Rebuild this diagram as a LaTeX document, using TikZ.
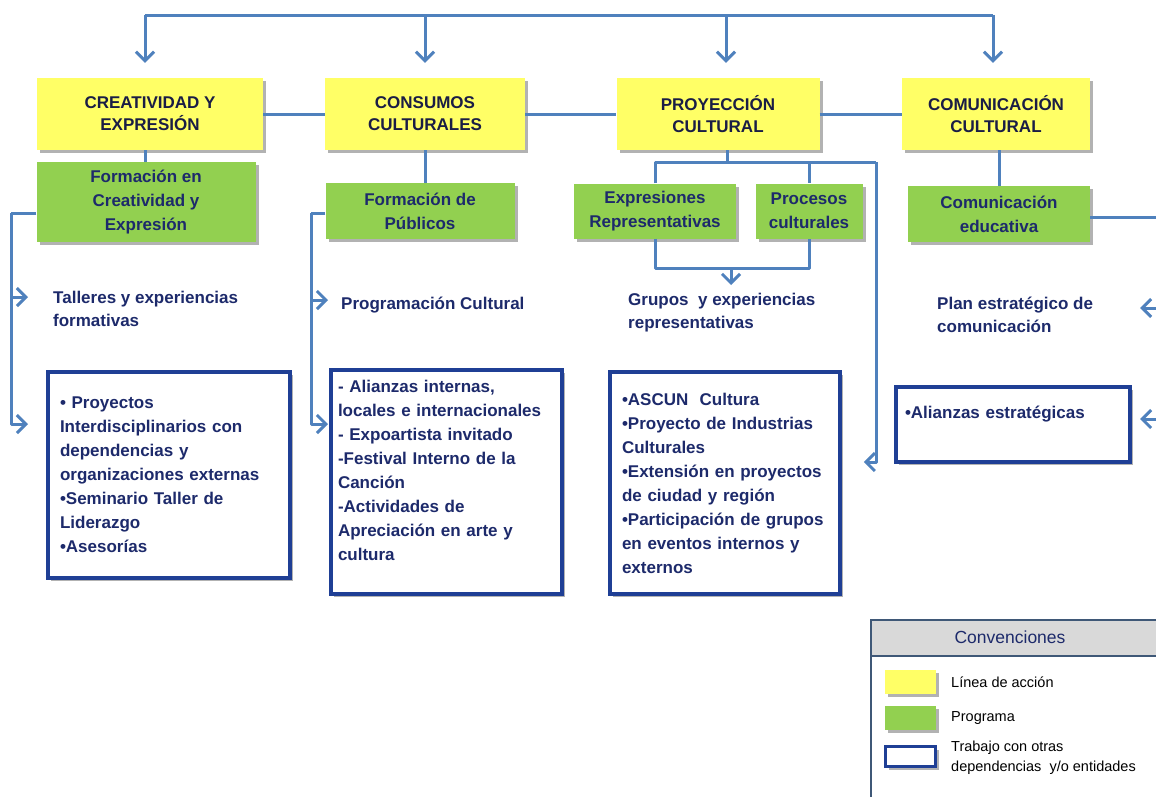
\documentclass[tikz,border=0pt]{standalone}
\usepackage{fontspec}
\setmainfont{Liberation Sans}
\usetikzlibrary{arrows.meta,shadows}
\definecolor{linea}{HTML}{4F81BD}
\definecolor{amarillo}{HTML}{FFFF66}
\definecolor{verde}{HTML}{92D050}
\definecolor{azul}{HTML}{1F3F95}
\definecolor{navy}{HTML}{1D2A6B}
\definecolor{ink}{HTML}{1A1D45}
\definecolor{gris}{HTML}{D9D9D9}
\definecolor{marco}{HTML}{3F5877}
\tikzset{
  con/.style={draw=linea, line width=3pt, line join=round},
  arr/.style={con, -{Straight Barb[length=9pt,width=18pt]}},
  sombra/.style={drop shadow={shadow xshift=3pt, shadow yshift=-3pt, fill=black, opacity=.3}},
  accion/.style={fill=amarillo, sombra, text=ink, font=\fontsize{17}{22}\selectfont\bfseries, align=center, minimum height=72pt, inner sep=0pt},
  programa/.style={fill=verde, sombra, text=navy, font=\fontsize{17}{24}\selectfont\bfseries, align=center, inner sep=0pt},
  trabajo/.style={draw=azul, line width=3.5pt, fill=white, sombra, text=navy, font=\fontsize{17}{24}\selectfont\bfseries, align=left, inner ysep=0pt},
  lab/.style={text=navy, font=\fontsize{17}{23}\selectfont\bfseries, align=left, anchor=west, inner sep=0pt},
  muestra/.style={sombra, minimum width=51pt, minimum height=24pt, inner sep=0pt},
  leg/.style={text=black, font=\fontsize{14.5}{20}\selectfont, align=left, anchor=west, inner sep=0pt},
}

\begin{document}
\begin{tikzpicture}[x=1pt,y=-1pt]
  \path[use as bounding box, fill=white] (0,0) rectangle (1156,796);

  \node[accion, minimum width=226pt] (L1) at (150,114) {CREATIVIDAD Y\\EXPRESIÓN};
  \node[accion, minimum width=200pt] (L2) at (425,114) {CONSUMOS\\CULTURALES};
  \node[accion, minimum width=203pt] (L3) at (718,114) {PROYECCIÓN\\CULTURAL};
  \node[accion, minimum width=188pt] (L4) at (996,114) {COMUNICACIÓN\\CULTURAL};

  \node[programa, minimum width=219pt, minimum height=80pt] (P1) at (146,202) {Formación en\\Creatividad y\\Expresión};
  \node[programa, minimum width=189pt, minimum height=56pt] (P2) at (420,211) {Formación de\\Públicos};
  \node[programa, minimum width=162pt, minimum height=55pt] (P3a) at (655,211) {Expresiones\\Representativas};
  \node[programa, minimum width=107pt, minimum height=55pt] (P3b) at (809,211) {Procesos\\culturales};
  \node[programa, minimum width=182pt, minimum height=56pt] (P4) at (999,214) {Comunicación\\educativa};

  \node[lab] (T1) at (53,309) {Talleres y experiencias\\formativas};
  \node[lab] (T2) at (341,305) {Programación Cultural};
  \node[lab] (T3) at (628,313) {Grupos\ \ y experiencias\\representativas};
  \node[lab] (T4) at (937,315) {Plan estratégico de\\comunicación};

  \node[trabajo, text width=218pt, inner xsep=12pt, minimum height=206pt] (D1) at (169,475) {• Proyectos\\Interdisciplinarios con\\dependencias y\\organizaciones externas\\•Seminario Taller de\\Liderazgo\\•Asesorías};
  \node[trabajo, text width=217pt, inner xsep=7pt, minimum height=224pt] (D2) at (446.5,482) {- Alianzas internas,\\locales e internacionales\\- Expoartista invitado\\-Festival Interno de la\\Canción\\-Actividades de\\Apreciación en arte y\\cultura\\\mbox{}};
  \node[trabajo, text width=206pt, inner xsep=12pt, minimum height=222pt] (D3) at (725,483) {•ASCUN\ \ Cultura\\•Proyecto de Industrias\\Culturales\\•Extensión en proyectos\\de ciudad y región\\•Participación de grupos\\en eventos internos y\\externos};
  \node[trabajo, text width=216pt, inner xsep=9pt, minimum height=75pt] (D4) at (1013,424.5) {•Alianzas estratégicas\\\mbox{}};

  \coordinate (t1) at (145,15);
  \coordinate (t2) at (425,15);
  \coordinate (t3) at (726,15);
  \coordinate (t4) at (993,15);
  \draw[con] (t1) -- (t4);
  \foreach \i in {1,...,4}
    \draw[arr, shorten >=15pt] (t\i) -- (t\i |- L\i.north);
  \draw[con] (L1) -- (L2);
  \draw[con] (L2) -- (L3);
  \draw[con] (L3) -- (L4);

  \draw[con] (L1.south -| t1) -- (P1.north -| t1);
  \draw[con] (L2.south) -- (L2.south |- P2.north);
  \draw[con] (L4.south -| P4.north) -- (P4.north);

  \coordinate (b3) at (727,162);
  \coordinate (r3) at (876,162);
  \coordinate (r3b) at (876,462);
  \draw[con] (L3.south -| b3) -- (b3);
  \draw[con] (P3a.north) -- (P3a.north |- b3) -- (r3);
  \draw[con] (P3b.north |- b3) -- (P3b.north);
  \draw[arr, shorten >=22pt] (r3) -- (r3b) -- (D3.east |- r3b);
  \coordinate (j3) at (731,268);
  \coordinate (a3) at (731,285);
  \draw[con] (P3a.south) -- (P3a.south |- j3) -- (P3b.south |- j3) -- (P3b.south);
  \draw[arr] (j3) -- (a3);

  \coordinate (k1) at (11,213);
  \coordinate (a1) at (28,297);
  \coordinate (b1) at (28,424);
  \draw[con] (P1.west |- k1) -- (k1);
  \draw[arr] (k1) |- (a1);
  \draw[arr] (k1) |- (b1);

  \coordinate (k2) at (311,213);
  \coordinate (a2) at (328,300);
  \coordinate (b2) at (328,424);
  \draw[con] (P2.west |- k2) -- (k2);
  \draw[arr] (k2) |- (a2);
  \draw[arr] (k2) |- (b2);

  \coordinate (k4) at (1162,217);
  \coordinate (a4) at (1140,308);
  \coordinate (b4) at (1140,419);
  \draw[con] (P4.east |- k4) -- (k4);
  \draw[arr] (k4) |- (a4);
  \draw[arr] (k4) |- (b4);

  \node[draw=marco, line width=2pt, fill=white, minimum width=300pt, minimum height=190pt, anchor=north west, inner sep=0pt] (cv) at (870,619) {};
  \node[draw=marco, line width=2pt, fill=gris, minimum width=300pt, minimum height=36pt, anchor=north west, inner sep=0pt] (cvt) at (870,619) {};
  \node[text=navy, font=\fontsize{17.5}{20}\selectfont, inner sep=0pt] (cvn) at (1010,637) {Convenciones};
  \node[muestra, fill=amarillo] (s1) at (910.5,682) {};
  \node[muestra, fill=verde] (s2) at (910.5,718) {};
  \node[muestra, draw=azul, line width=3.5pt, fill=white, minimum width=50pt, minimum height=20pt] (s3) at (910.5,756.5) {};
  \node[leg] (e1) at (951,682) {Línea de acción};
  \node[leg] (e2) at (951,718) {Programa};
  \node[leg] (e3) at (951,758) {Trabajo con otras\\dependencias\ \ y/o entidades};
\end{tikzpicture}
\end{document}
